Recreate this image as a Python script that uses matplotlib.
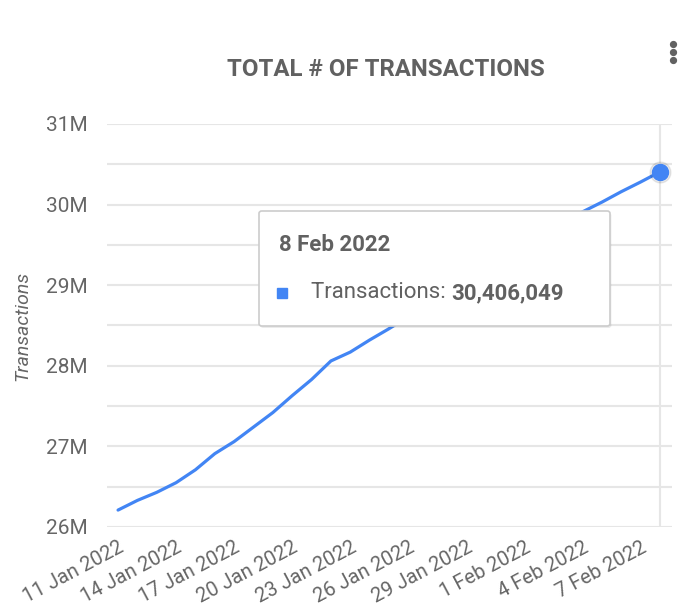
import pandas as pd
import matplotlib.pyplot as plt
from matplotlib.patches import FancyBboxPatch
from matplotlib.lines import Line2D
from matplotlib.text import Annotation

plt.rcParams["font.family"] = ["Roboto", "DejaVu Sans"]

# Datos diarios (millones de transacciones acumuladas)
fechas = pd.date_range("2022-01-11", "2022-02-08", freq="D")
transacciones = [26.21, 26.33, 26.43, 26.55, 26.71, 26.91, 27.06, 27.24, 27.42,
                 27.63, 27.83, 28.06, 28.17, 28.32, 28.46, 28.61, 28.77, 28.92,
                 29.07, 29.21, 29.36, 29.50, 29.64, 29.78, 29.91, 30.03, 30.16,
                 30.28, 30.406049]
ticks_y = [26, 27, 28, 29, 30, 31]
etiquetas_y = ["26M", "27M", "28M", "29M", "30M", "31M"]
etiquetas_x = ["11 Jan 2022", "14 Jan 2022", "17 Jan 2022", "20 Jan 2022",
               "23 Jan 2022", "26 Jan 2022", "29 Jan 2022", "1 Feb 2022",
               "4 Feb 2022", "7 Feb 2022"]

azul = "#4285F4"
gris = "#666666"
W, H = 697, 610

fig = plt.figure(figsize=(W / 100, H / 100), dpi=100)
ax = fig.add_axes([107 / W, 1 - 527 / H, (672 - 107) / W, (527 - 124) / H])

ax.plot(fechas, transacciones, color=azul, lw=2.3, solid_capstyle="round", zorder=3)
# punto resaltado (hover)
ax.plot(fechas[-1:], transacciones[-1:], "o", ms=15, color="#000000", alpha=0.08, zorder=3)
ax.plot(fechas[-1:], transacciones[-1:], "o", ms=11.5, color=azul, zorder=4)
ax.axvline(fechas[-1], color="#e6e6e6", lw=1.5, zorder=1)

ax.set_ylim(26, 31)
ax.set_xlim(fechas[0] - pd.Timedelta(hours=13.7), fechas[-1] + pd.Timedelta(hours=15))
# grid cada 0.5M, etiqueta solo en los enteros
ax.set_yticks(ticks_y)
ax.set_yticklabels(etiquetas_y)
ax.set_yticks([v + 0.5 for v in ticks_y[:-1]], minor=True)
ax.grid(axis="y", which="both", color="#e6e6e6", lw=1.5, zorder=0)
for s in ax.spines.values():
    s.set_visible(False)
ax.tick_params(axis="y", which="both", length=0, pad=14, labelsize=15, labelcolor=gris)

ax.set_xticks(fechas[::3])
ax.set_xticklabels(etiquetas_x, rotation=28, ha="right", va="top", rotation_mode="anchor")
ax.tick_params(axis="x", length=0, pad=8, labelsize=14.5, labelcolor=gris)

fig.text(22 / W, 1 - 326 / H, "Transactions", rotation=90, ha="center", va="center",
         fontsize=14, style="italic", color=gris)

fig.text(386 / W, 1 - 70 / H, "TOTAL # OF TRANSACTIONS", ha="center", va="center",
         fontsize=17.3, fontweight="bold", color="#616161")

# menu de tres puntos
fig.add_artist(Line2D([673 / W] * 3, [1 - 43.5 / H, 1 - 51.5 / H, 1 - 59.5 / H],
                      transform=fig.transFigure, ls="none", marker="o", ms=4.2,
                      color="#616161"))

# tooltip
x0, y0, x1, y1 = 259, 211, 610, 326
sombra = FancyBboxPatch((x0 / W + 0.002, 1 - (y1 + 2) / H), (x1 - x0) / W, (y1 - y0) / H,
                        boxstyle="round,pad=0,rounding_size=0.004", transform=fig.transFigure,
                        fc="#000000", ec="none", alpha=0.08, zorder=10)
caja = FancyBboxPatch((x0 / W, 1 - y1 / H), (x1 - x0) / W, (y1 - y0) / H,
                      boxstyle="round,pad=0,rounding_size=0.004", transform=fig.transFigure,
                      fc="white", ec="#cccccc", lw=1.2, zorder=11)
fig.add_artist(sombra)
fig.add_artist(caja)
fig.text(279 / W, 1 - 245 / H, fechas[-1].strftime("%-d %b %Y"), ha="left", va="center",
         fontsize=16, fontweight="bold", color="#616161", zorder=12)
fig.add_artist(Line2D([282 / W], [1 - 293 / H], transform=fig.transFigure, ls="none",
                      marker="s", ms=6.5, color=azul, zorder=12))
t1 = fig.text(311 / W, 1 - 293 / H, "Transactions: ", ha="left", va="center",
              fontsize=16, color="#616161", zorder=12)
valor = round(transacciones[-1] * 1e6)
fig.add_artist(Annotation(f"{valor:,}", xy=(1, 0.5), xycoords=t1, ha="left", va="center",
                          fontsize=16, fontweight="bold", color="#616161", zorder=12))

plt.savefig("out.png", dpi=100)
